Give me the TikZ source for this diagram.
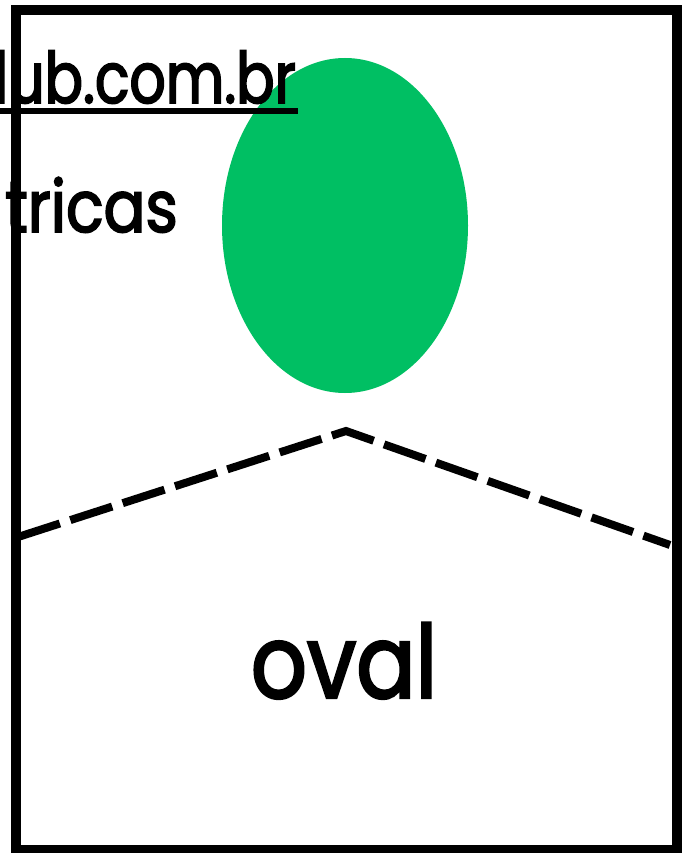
\documentclass[tikz,border=0pt]{standalone}
\usepackage{fontspec}
\setmainfont{Poppins}
\newfontfamily\cardfont{Poppins}[FakeStretch=0.86,FakeBold=2.4]
\newfontfamily\linkfont{Poppins}[FakeStretch=0.8,FakeBold=2.4]
\definecolor{ovalgreen}{HTML}{00BF63}
\begin{document}
\begin{tikzpicture}[x=1pt,y=-1pt,
  frame/.style={draw=black,line width=10pt},
  roof/.style={draw=black,line width=8pt,dash pattern=on 44pt off 11pt},
  bigtext/.style={font=\cardfont\fontsize{102}{102}\selectfont,inner sep=0pt},
  smalltext/.style={font=\cardfont\fontsize{72}{72}\selectfont,inner sep=0pt},
  linktext/.style={font=\linkfont\fontsize{71}{71}\selectfont,inner sep=0pt}]
\useasboundingbox (0,0) rectangle (688,853);
\fill[white] (0,0) rectangle (688,853);
\draw[frame] (16,10.5) rectangle (676.5,850);
\fill[ovalgreen] (345,225.5) ellipse [x radius=123, y radius=167.5];
\coordinate (L) at (18,537);
\coordinate (A) at (346,431);
\coordinate (R) at (670,545);
\draw[roof] (L) -- (A) -- (R);
\node[bigtext,anchor=base] (oval) at (344,698) {oval};
\node[linktext,anchor=base east] (url) at (296,103) {lub.com.br};
\draw[line width=6pt] (0,111.5) -- (298,111.5);
\node[smalltext,anchor=base east] (tricas) at (178,232) {tricas};
\end{tikzpicture}
\end{document}
